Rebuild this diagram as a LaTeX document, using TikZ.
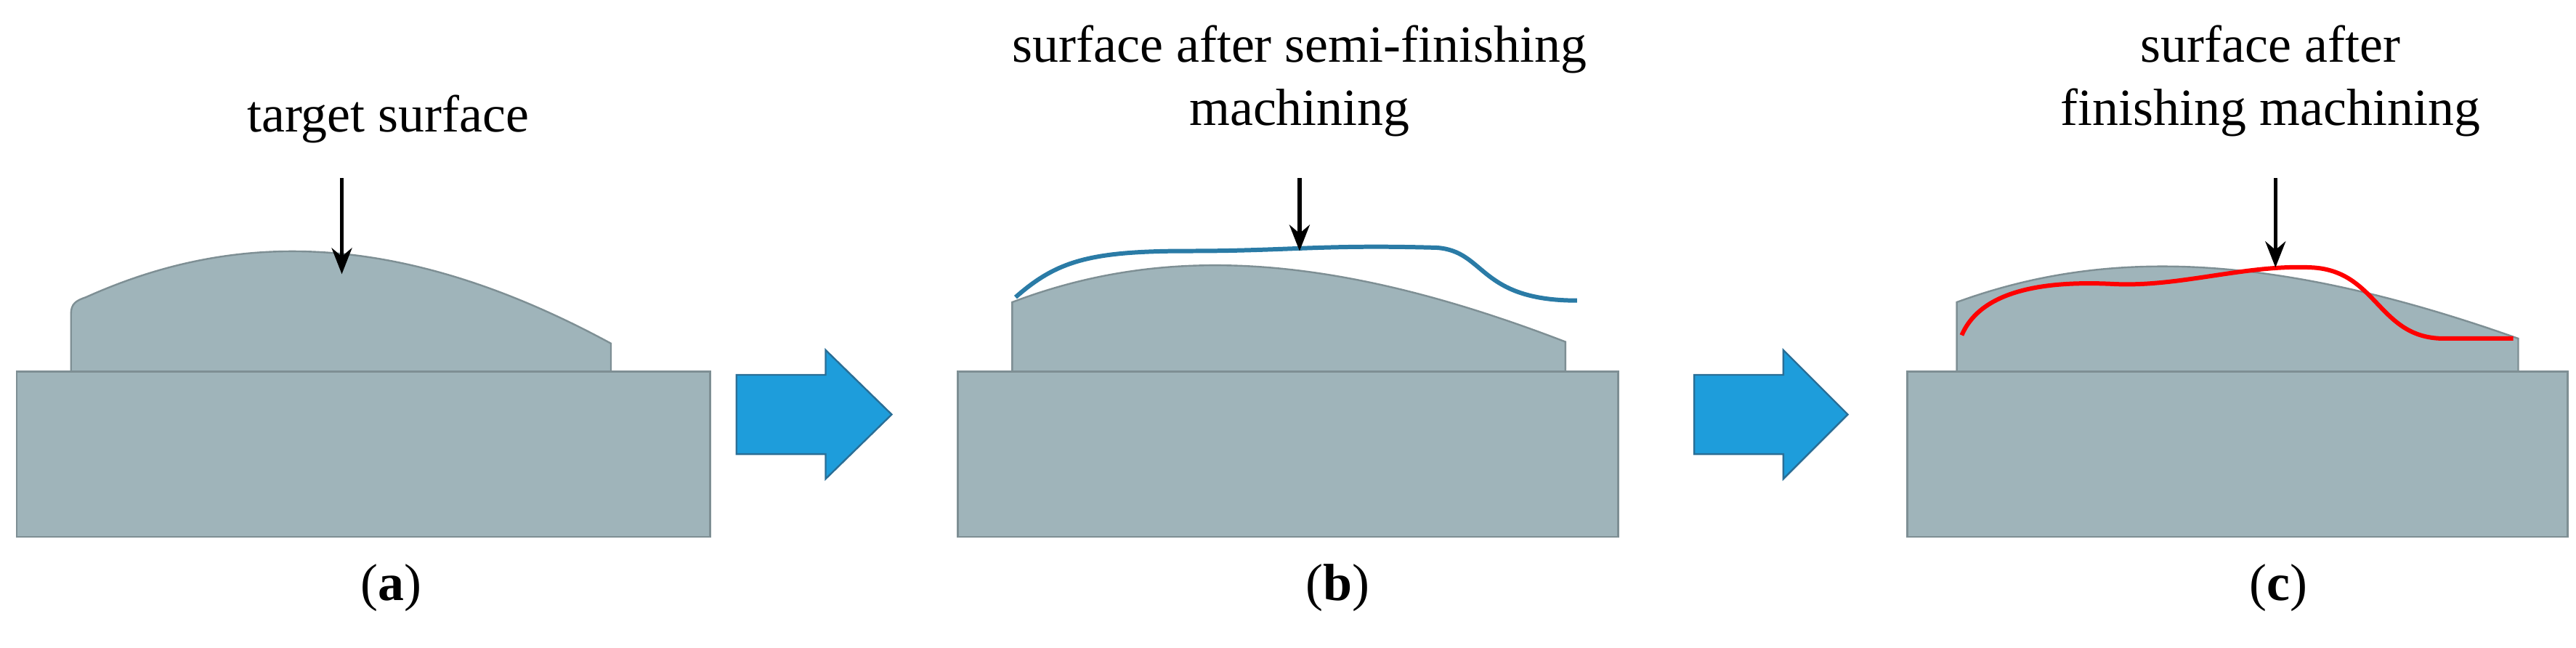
\documentclass[tikz,border=0pt]{standalone}
\usepackage{fontspec}
\setmainfont{Liberation Serif}
\usetikzlibrary{arrows.meta}
\definecolor{body}{HTML}{9FB4BA}
\definecolor{bodyline}{HTML}{7E8F94}
\definecolor{arrblue}{HTML}{1E9DDB}
\definecolor{arrline}{HTML}{2A6E96}
\definecolor{wave}{HTML}{2A7BA6}
\tikzset{
  part/.style={fill=body,draw=bodyline,line width=0.6pt},
  txt/.style={font=\fontsize{18}{22}\selectfont,align=center},
  lab/.style={font=\fontsize{18}{22}\selectfont},
  pointer/.style={-{Stealth[length=9pt,width=7pt]},line width=1.3pt},
  bigarrow/.style={fill=arrblue,draw=arrline,line width=0.6pt}
}
\begin{document}
\begin{tikzpicture}[x=0.02cm,y=-0.02cm]
\useasboundingbox (0,0) rectangle (1560,392);
% panel a
\path[part] (10,225) rectangle (430,325);
\path[part] (43,225) -- (43,190) .. controls (43,184) and (46,182) .. (52,180) .. controls (130,145) and (230,132) .. (370,208) -- (370,225) -- cycle;
\node[txt] (ta) at (235,72) {target surface};
\coordinate (pa) at (207,166);
\draw[pointer] (207,108) -- (pa);
\node[lab] (la) at (237,356) {(\textbf{a})};
% arrow 1
\path[bigarrow] (446,227) -- (500,227) -- (500,212) -- (540,251) -- (500,290) -- (500,275) -- (446,275) -- cycle;
% panel b
\path[part] (580,225) rectangle (980,325);
\path[part] (613,225) -- (613,183) .. controls (700,150) and (800,150) .. (948,207) -- (948,225) -- cycle;
\draw[wave,line width=1.5pt] (615,180) .. controls (640,158) and (660,152) .. (720,152)
  .. controls (780,152) and (800,148) .. (870,150) .. controls (900,152) and (895,182) .. (955,182);
\node[txt] (tb) at (787,49) {surface after semi-finishing\\machining};
\coordinate (pb) at (787,152);
\draw[pointer] (787,108) -- (pb);
\node[lab] (lb) at (810,356) {(\textbf{b})};
% arrow 2
\path[bigarrow] (1026,227) -- (1080,227) -- (1080,212) -- (1119,251) -- (1080,290) -- (1080,275) -- (1026,275) -- cycle;
% panel c
\path[part] (1155,225) rectangle (1555,325);
\path[part] (1185,225) -- (1185,183) .. controls (1270,152) and (1370,150) .. (1525,205) -- (1525,225) -- cycle;
\draw[red,line width=1.5pt] (1188,203) .. controls (1200,175) and (1240,170) .. (1280,172)
  .. controls (1320,174) and (1360,160) .. (1400,162) .. controls (1440,164) and (1440,205) .. (1480,205) -- (1522,205);
\node[txt] (tc) at (1375,49) {surface after\\finishing machining};
\coordinate (pc) at (1378,162);
\draw[pointer] (1378,108) -- (pc);
\node[lab] (lc) at (1380,356) {(\textbf{c})};
\end{tikzpicture}
\end{document}
